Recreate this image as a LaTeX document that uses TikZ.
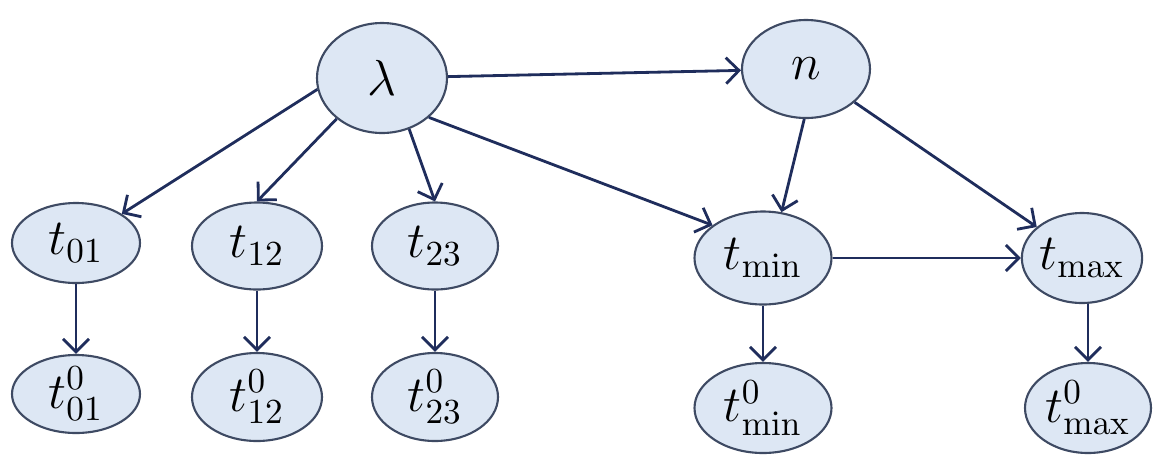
\documentclass[tikz,border=0pt]{standalone}
\usetikzlibrary{shapes.geometric}
\usetikzlibrary{arrows.meta}
\usepackage{amsmath}

\definecolor{nodefill}{HTML}{DDE7F4}
\definecolor{nodeline}{HTML}{3E4A63}
\definecolor{arrowcol}{HTML}{1F2D5C}

\begin{document}
\begin{tikzpicture}[
			var/.style={draw=nodeline, fill=nodefill, ellipse, inner sep=0pt, line width=0.6pt, font=\Large},
			arrow/.style={-{Straight Barb[length=1.3mm, width=2.6mm]}, draw=arrowcol, line width=0.8pt}
			]
			\useasboundingbox (0,0) rectangle (11.54,4.55);
			% Top nodes
			\node[var, minimum width=1.30cm, minimum height=1.10cm] (lambda) at (3.82,3.77) {$\lambda$};
			\node[var, minimum width=1.28cm, minimum height=0.98cm] (n) at (8.06,3.86) {$n$};
			
			% Middle row
			\node[var, minimum width=1.28cm, minimum height=0.80cm] (t01) at (0.76,2.12) {$t_{01}$};
			\node[var, minimum width=1.30cm, minimum height=0.87cm] (t12) at (2.57,2.09) {$t_{12}$};
			\node[var, minimum width=1.26cm, minimum height=0.87cm] (t23) at (4.35,2.09) {$t_{23}$};
			\node[var, minimum width=1.37cm, minimum height=0.93cm] (tmin) at (7.63,1.97) {$t_{\min}$};
			\node[var, minimum width=1.17cm, minimum height=0.90cm] (tmax) at (10.82,1.97) {$t_{\max}$};
			
			% Bottom row
			\node[var, minimum width=1.28cm, minimum height=0.78cm] (t01zero) at (0.76,0.61) {$t_{01}^{0}$};
			\node[var, minimum width=1.30cm, minimum height=0.88cm] (t12zero) at (2.57,0.58) {$t_{12}^{0}$};
			\node[var, minimum width=1.26cm, minimum height=0.88cm] (t23zero) at (4.35,0.58) {$t_{23}^{0}$};
			\node[var, minimum width=1.37cm, minimum height=0.90cm] (tminzero) at (7.63,0.47) {$t_{\min}^{0}$};
			\node[var, minimum width=1.26cm, minimum height=0.90cm] (tmaxzero) at (10.88,0.47) {$t_{\max}^{0}$};
			
			% Arrows
			\draw[arrow] (lambda) -- (n);
			\draw[arrow] (lambda.190) -- (t01);
			\draw[arrow] (lambda.222) -- (t12.north);
			\draw[arrow] (lambda.298) -- (t23.north);
			\draw[arrow] (lambda.320) -- (tmin.147);
			\draw[arrow] (n.268) -- (tmin.68);
			\draw[arrow] (n) -- (tmax);
			\draw[arrow] (tmin) -- (tmax);
			\draw[arrow] (t01) -- (t01zero);
			\draw[arrow] (t12) -- (t12zero);
			\draw[arrow] (t23) -- (t23zero);
			\draw[arrow] (tmin) -- (tminzero);
			\draw[arrow] (tmaxzero |- tmax.south) -- (tmaxzero);
		\end{tikzpicture}
\end{document}
